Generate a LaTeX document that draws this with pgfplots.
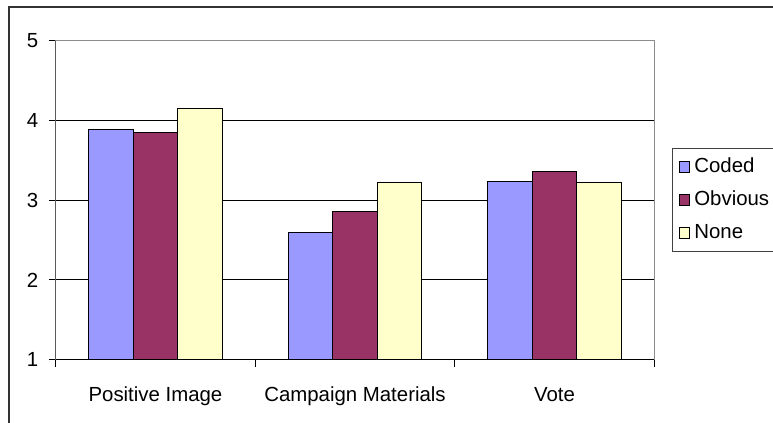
\documentclass[border=0pt]{standalone}
\usepackage{pgfplots}
\pgfplotsset{compat=1.18}
\usepackage{fontspec}
\setmainfont{Liberation Sans}
\definecolor{codedclr}{HTML}{9999FF}
\definecolor{obviousclr}{HTML}{993366}
\definecolor{noneclr}{HTML}{FFFFCC}

% Mean ratings per condition
\pgfplotstableread{
x  coded obvious none
0  3.89  3.85    4.15
1  2.60  2.86    3.22
2  3.24  3.36    3.22
}\ratings

\begin{document}
\fontsize{10.2}{12.2}\selectfont
\begin{tikzpicture}[x=1pt,y=1pt]
\begin{axis}[
  width=299.3pt, height=159.5pt, scale only axis,
  /pgf/number format/assume math mode=true,
  ymin=1, ymax=5, ytick={1,2,3,4,5},
  xmin=-0.5, xmax=2.5,
  xtick={0,1,2},
  xticklabels={Positive Image, Campaign Materials, Vote},
  minor xtick={-0.5,0.5,1.5,2.5},
  xtick pos=left, ytick pos=left,
  tick align=outside,
  major tick length=3.5pt, minor tick length=3.5pt,
  major x tick style={draw=none},
  tick style={black, line width=0.5pt},
  axis line style={draw=black!45, line width=0.6pt},
  ymajorgrids,
  major grid style={black, line width=0.5pt},
  xticklabel style={inner sep=0pt, text height=7.3pt, text depth=2pt, yshift=-10pt},
  yticklabel style={inner sep=0pt, xshift=-5pt},
  ybar=0pt, bar width=22.25pt,
  legend style={at={(1.03,0.6627)}, anchor=north west,
    draw=black!75, line width=0.5pt, font=\fontsize{10.2}{12.2}\selectfont,
    inner xsep=3pt, inner ysep=2.4pt, row sep=2.9pt,
    nodes={inner sep=2pt, text height=7.4pt, text depth=2.2pt},
    every odd column/.append style={column sep=2pt},
    cells={anchor=west}},
]
\addplot[fill=codedclr, draw=black, line width=0.5pt,
  legend image code/.code={\draw[fill=codedclr,draw=black,line width=0.5pt] (0pt,-2.6pt) rectangle (5.3pt,2.6pt);}]
  table[x=x, y=coded] {\ratings};
\addplot[fill=obviousclr, draw=black, line width=0.5pt,
  legend image code/.code={\draw[fill=obviousclr,draw=black,line width=0.5pt] (0pt,-2.6pt) rectangle (5.3pt,2.6pt);}]
  table[x=x, y=obvious] {\ratings};
\addplot[fill=noneclr, draw=black, line width=0.5pt,
  legend image code/.code={\draw[fill=noneclr,draw=black,line width=0.5pt] (0pt,-2.6pt) rectangle (5.3pt,2.6pt);}]
  table[x=x, y=none] {\ratings};
\legend{Coded, Obvious, None}
% darker left and bottom axis lines
\draw[black, line width=0.6pt] (rel axis cs:0,1) -- (rel axis cs:0,0) -- (rel axis cs:1,0);
\coordinate (O) at (rel axis cs:0,0);
\end{axis}
% page area and chart frame, placed from the plot corner
\pgfresetboundingbox
\begin{scope}[shift={(O)}]
\path[use as bounding box] (-27.85,-31.65) rectangle ++(386.5,211.5);
\draw[line width=0.8pt, black!80] (-23.35,-45) -- (-23.35,176.35) -- (380,176.35);
\end{scope}
\end{tikzpicture}
\end{document}
